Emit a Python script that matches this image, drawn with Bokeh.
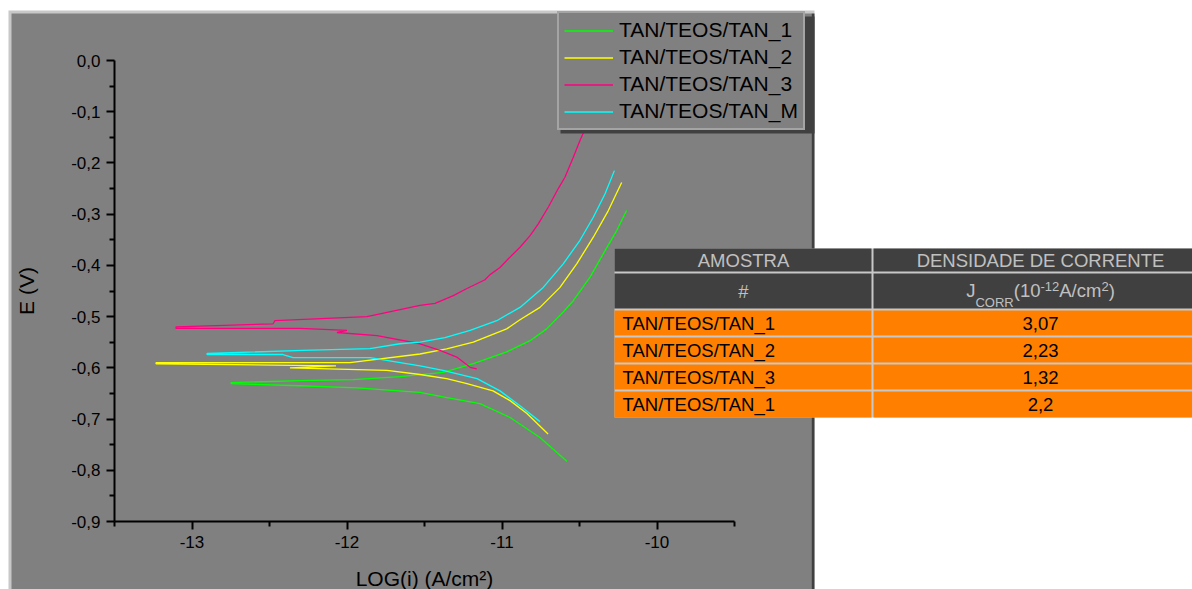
from bokeh.plotting import figure
from bokeh.models import (BoxAnnotation, Label, Legend, LegendItem, FixedTicker,
                          CustomJSTickFormatter, Range1d)
from bokeh.embed import file_html
from bokeh.resources import INLINE

# ---------------- data ----------------
series_names = ["TAN/TEOS/TAN_1", "TAN/TEOS/TAN_2", "TAN/TEOS/TAN_3", "TAN/TEOS/TAN_M"]
series_colors = ["#00FF00", "#FFFF00", "#FF0080", "#00FFFF"]

tan1_logi = [-10.58, -10.755, -10.948, -11.142, -11.355, -11.529, -11.935, -12.303, -12.748,
             -12.748, -12.303, -11.961, -11.658, -11.379, -11.185, -10.970, -10.819, -10.712,
             -10.605, -10.540, -10.432, -10.346, -10.260, -10.196]
tan1_e = [-0.783, -0.736, -0.697, -0.670, -0.658, -0.648, -0.639, -0.635, -0.631,
          -0.629, -0.625, -0.623, -0.617, -0.609, -0.592, -0.569, -0.547, -0.524,
          -0.491, -0.469, -0.423, -0.377, -0.332, -0.293]

tan2_logi = [-10.703, -10.839, -10.948, -11.058, -11.226, -11.357, -11.529, -11.742, -12.368,
             -12.071, -13.232, -13.232, -11.981, -11.529, -11.357, -11.185, -10.970, -10.884,
             -10.755, -10.626, -10.518, -10.411, -10.314, -10.228]
tan2_e = [-0.729, -0.689, -0.664, -0.645, -0.631, -0.621, -0.613, -0.605, -0.600,
          -0.596, -0.592, -0.590, -0.590, -0.573, -0.563, -0.550, -0.524, -0.506,
          -0.482, -0.443, -0.397, -0.345, -0.293, -0.238]

tan3_logi = [-11.163, -11.206, -11.292, -11.400, -11.529, -11.806, -12.065, -12.000, -12.303,
             -13.103, -13.103, -12.477, -12.465, -11.871, -11.529, -11.432, -11.314, -11.239,
             -11.110, -11.077, -11.013, -10.959, -10.884, -10.819, -10.766, -10.701, -10.637,
             -10.594, -10.540, -10.497, -10.454, -10.413]
tan3_e = [-0.602, -0.599, -0.579, -0.566, -0.553, -0.537, -0.531, -0.527, -0.523,
          -0.523, -0.520, -0.514, -0.508, -0.500, -0.478, -0.474, -0.459, -0.447,
          -0.428, -0.418, -0.404, -0.387, -0.3645, -0.342, -0.319, -0.286, -0.250,
          -0.228, -0.189, -0.156, -0.127, -0.078]

tanm_logi = [-10.755, -10.884, -11.013, -11.161, -11.381, -11.529, -11.852, -12.348, -12.413,
             -12.903, -12.903, -12.284, -11.852, -11.658, -11.529, -11.368, -11.206, -11.034,
             -10.884, -10.734, -10.605, -10.497, -10.411, -10.335, -10.275]
tanm_e = [-0.705, -0.674, -0.645, -0.621, -0.605, -0.596, -0.580, -0.580, -0.574,
          -0.574, -0.572, -0.566, -0.5625, -0.553, -0.550, -0.541, -0.527, -0.508,
          -0.482, -0.443, -0.397, -0.351, -0.306, -0.260, -0.215]

x_major_ticks = [-13, -12, -11, -10]
x_minor_ticks = [-13.5, -12.5, -11.5, -10.5, -9.5]
y_major_ticks = [0.0, -0.1, -0.2, -0.3, -0.4, -0.5, -0.6, -0.7, -0.8, -0.9]
y_minor_ticks = [-0.05, -0.15, -0.25, -0.35, -0.45, -0.55, -0.65, -0.75, -0.85]

x_label = "LOG(i) (A/cm²)"
y_label = "E (V)"

table_headers = ["AMOSTRA", "DENSIDADE DE CORRENTE"]
table_subheader_left = "#"
table_samples = ["TAN/TEOS/TAN_1", "TAN/TEOS/TAN_2", "TAN/TEOS/TAN_3", "TAN/TEOS/TAN_1"]
table_jcorr = ["3,07", "2,23", "1,32", "2,2"]

# ---------------- layout ----------------
W, H = 1192, 589
FL, FR, FT, FB = 114, 734, 60, 521      # pixel box of the axes area
X0, X1 = -13.5, -9.5
Y0, Y1 = -0.9, 0.0
FONT = "Liberation Sans"


def sx(px):
    return X0 + (px - FL) * (X1 - X0) / (FR - FL)


def sy(py):
    return Y1 - (py - FT) * (Y1 - Y0) / (FB - FT)


# the frame covers the whole canvas; the axes sit at fixed data locations
p = figure(width=W, height=H, x_range=Range1d(sx(0), sx(W)), y_range=Range1d(sy(H), sy(0)),
           output_backend="svg", toolbar_location=None,
           min_border=0, min_border_left=0, min_border_right=0,
           min_border_top=0, min_border_bottom=0)
p.title.visible = False
p.background_fill_color = "white"
p.border_fill_color = "white"
p.outline_line_color = None
p.grid.visible = False


def box(l, r, t, b, color, level="annotation"):
    p.add_layout(BoxAnnotation(left=sx(l), right=sx(r), top=sy(t), bottom=sy(b),
                               fill_color=color, fill_alpha=1.0, line_color=None,
                               level=level))


# grey panel of the chart with its bevel
box(8, 814, 10, 620, "#c8c8c8", "underlay")
box(11, 811, 13, 620, "#808080", "underlay")
box(811, 814, 13, 620, "#404040", "underlay")

# axes
for ax in (p.xaxis, p.yaxis):
    ax.axis_line_width = 2
    ax.axis_line_color = "black"
    ax.major_tick_line_width = 2
    ax.minor_tick_line_width = 2
    ax.major_tick_out = 8
    ax.major_tick_in = 0
    ax.minor_tick_out = 5
    ax.minor_tick_in = 0
    ax.major_label_text_font = FONT
    ax.major_label_text_font_size = "17px"
    ax.major_label_text_color = "black"
    ax.major_label_standoff = 6
    ax.axis_label_text_font = FONT
    ax.axis_label_text_font_size = "21px"
    ax.axis_label_text_font_style = "normal"
    ax.axis_label_text_color = "black"

p.xaxis.fixed_location = Y0
p.yaxis.fixed_location = X0
p.xaxis.bounds = (X0, X1)
p.yaxis.bounds = (Y0, Y1)
p.xaxis.ticker = FixedTicker(ticks=x_major_ticks, minor_ticks=x_minor_ticks)
p.yaxis.ticker = FixedTicker(ticks=y_major_ticks, minor_ticks=y_minor_ticks)
p.yaxis.formatter = CustomJSTickFormatter(
    code="const v = Math.abs(tick) < 1e-9 ? 0 : tick; return v.toFixed(1).replace('.', ',');")
p.xaxis.formatter = CustomJSTickFormatter(code="return tick.toFixed(0);")
p.xaxis.axis_label = x_label
p.xaxis.axis_label_standoff = 16
p.yaxis.axis_label = y_label
p.yaxis.axis_label_standoff = 30

# legend shadow (bevel)
box(560, 814, 16, 133, "#404040")

# curves
xs = [tan1_logi, tan2_logi, tan3_logi, tanm_logi]
ys = [tan1_e, tan2_e, tan3_e, tanm_e]
items = []
for name, col, x, y in zip(series_names, series_colors, xs, ys):
    r = p.line(x, y, line_color=col, line_width=1.3)
    items.append(LegendItem(label=name, renderers=[r]))

legend = Legend(items=items, location=(557, H - 130),
                background_fill_color="#808080", background_fill_alpha=1.0,
                border_line_color="#c8c8c8", border_line_width=2,
                label_text_font=FONT, label_text_font_size="21px",
                label_text_color="black", glyph_width=49, glyph_height=23,
                label_height=23, label_standoff=6, padding=5, spacing=3, margin=0)
p.add_layout(legend)

# ---------------- table ----------------
TL, TR, TT, TB = 614, 1192, 248, 417
COL_SPLIT = (871, 873)
ROWS = [(248, 271), (273, 308), (310, 335), (337, 362), (364, 389), (391, 417)]
box(TL, TR, TT, TB, "#c8c8c8")
for i, (t, b) in enumerate(ROWS):
    c = "#404040" if i < 2 else "#FF8000"
    box(TL, COL_SPLIT[0], t, b, c)
    box(COL_SPLIT[1], TR, t, b, c)

LEFT_C = 743
RIGHT_C = 1040
HDR_COL = "#c0c0c0"
TS = 18.5


def label(px, py, text, size, color, align):
    p.add_layout(Label(x=sx(px), y=sy(py), text=text, text_font=FONT,
                       text_font_size=f"{size}px", text_color=color,
                       text_align=align, text_baseline="middle"))


label(LEFT_C, 259.5, table_headers[0], TS, HDR_COL, "center")
label(RIGHT_C, 259.5, table_headers[1], TS, HDR_COL, "center")
label(LEFT_C, 291, table_subheader_left, TS, HDR_COL, "center")

# J_CORR(10^-12 A/cm^2) composed of pieces: (text, size, vertical centre)
widths = {"J": 500, "C": 722, "O": 778, "R": 722, "(": 333, ")": 333, "1": 556,
          "0": 556, "2": 556, "-": 333, "A": 667, "/": 278, "c": 500, "m": 833}
SMALL = 13
pieces = [("J", TS, 289.5), ("CORR", SMALL, 301.5), ("(10", TS, 289.5), ("-12", SMALL, 285.5),
          ("A/cm", TS, 289.5), ("2", SMALL, 285.5), (")", TS, 289.5)]
total = sum(sum(widths[ch] for ch in t) * s / 1000 for t, s, _ in pieces)
cx = RIGHT_C - total / 2
for t, s, cy in pieces:
    label(cx, cy, t, s, HDR_COL, "left")
    cx += sum(widths[ch] for ch in t) * s / 1000

for (t, b), name, val in zip(ROWS[2:], table_samples, table_jcorr):
    mid = (t + b) / 2
    label(622, mid, name, TS, "black", "left")
    label(RIGHT_C, mid, val, TS, "black", "center")

open("out.html", "w").write(file_html(p, INLINE))
